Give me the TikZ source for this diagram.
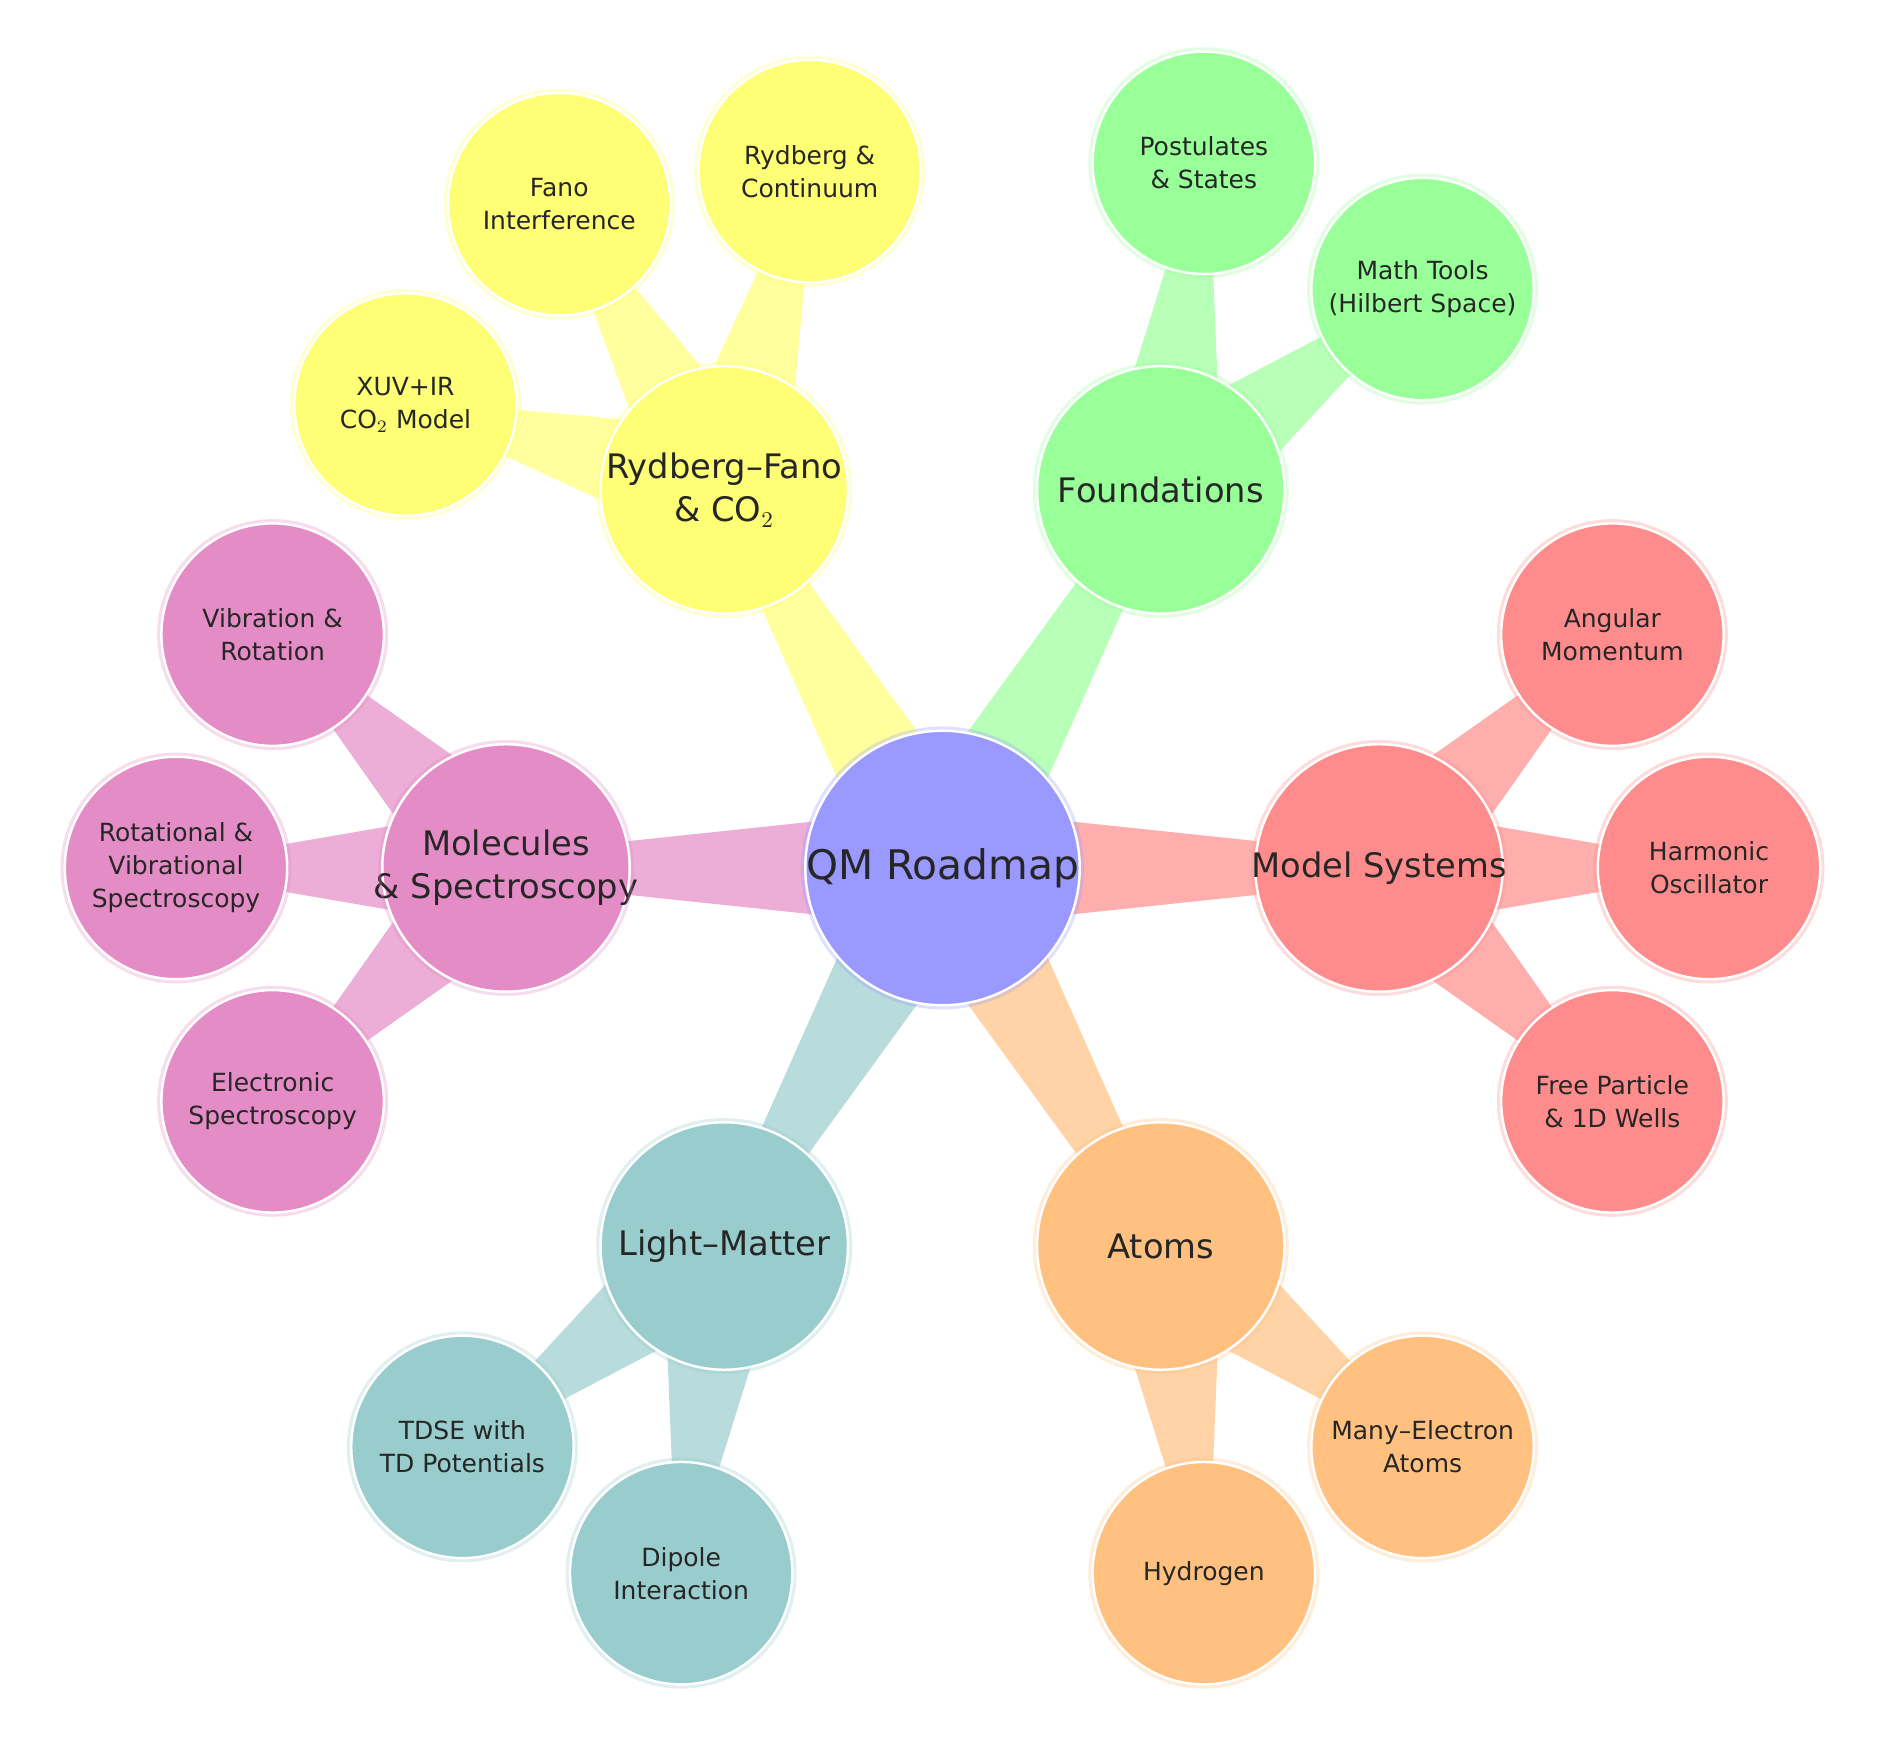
\documentclass[tikz,border=0pt]{standalone}
\usepackage[no-math]{fontspec}
\setmainfont{DejaVu Sans}
\usetikzlibrary{calc}
\pgfdeclarelayer{background}
\pgfsetlayers{background,main}
\definecolor{txt}{HTML}{262626}
\definecolor{cRoot}{HTML}{9999FF}
\definecolor{cFound}{HTML}{99FF99}
\definecolor{cRyd}{HTML}{FFFF75}
\definecolor{cMol}{HTML}{E48CC6}
\definecolor{cModel}{HTML}{FF8C8C}
\definecolor{cLight}{HTML}{99CCCC}
\definecolor{cAtoms}{HTML}{FFC080}
\newcommand\mmconn[5]{%
  \fill[#5!70] ($(#1.center)!#3!90:(#2.center)$) -- ($(#2.center)!#4!-90:(#1.center)$)
    -- ($(#2.center)!#4!90:(#1.center)$) -- ($(#1.center)!#3!-90:(#2.center)$) -- cycle;}
\tikzset{
  concept/.style={circle, inner sep=-25pt, align=center, text=txt, draw=white, line width=1pt},
  rootc/.style={concept, fill=#1, minimum size=109.8pt, font=\fontsize{16.3}{20}\selectfont},
  lvl/.style={concept, fill=#1, minimum size=99pt, font=\fontsize{13.5}{17.3}\selectfont},
  leaf/.style={concept, fill=#1, minimum size=89pt, font=\fontsize{10}{13.2}\selectfont},
  halo/.style={draw=#1, draw opacity=0.3, line width=1.2pt}
}
\begin{document}
\begin{tikzpicture}[x=0.4pt,y=0.4pt]
\useasboundingbox (0,0) rectangle (1885,1737);
% root
\node[rootc=cRoot] (root) at (942.5,869) {QM Roadmap};
% level 1
\node[lvl=cFound] (found) at ($(root)+(60:174.6pt)$) {Foundations};
\node[lvl=cRyd]   (ryd)   at ($(root)+(120:174.6pt)$) {Rydberg–Fano\\\& CO$_2$};
\node[lvl=cMol]   (mol)   at ($(root)+(180:174.6pt)$) {Molecules\\\& Spectroscopy};
\node[lvl=cLight] (light) at ($(root)+(240:174.6pt)$) {Light–Matter};
\node[lvl=cAtoms] (atoms) at ($(root)+(300:174.6pt)$) {Atoms};
\node[lvl=cModel] (model) at ($(root)+(0:174.6pt)$) {Model Systems};
% leaves
\node[leaf=cFound] (post) at ($(found)+(82.5:132pt)$) {Postulates\\\& States};
\node[leaf=cFound] (math) at ($(found)+(37.5:132pt)$) {Math Tools\\(Hilbert Space)};
\node[leaf=cRyd] (rc)   at ($(ryd)+(75:132pt)$) {Rydberg \&\\Continuum};
\node[leaf=cRyd] (fano) at ($(ryd)+(120:132pt)$) {Fano\\Interference};
\node[leaf=cRyd] (xuv)  at ($(ryd)+(165:132pt)$) {XUV+IR\\CO$_2$ Model};
\node[leaf=cMol] (vr)  at ($(mol)+(135:132pt)$) {Vibration \&\\Rotation};
\node[leaf=cMol] (rvs) at ($(mol)+(180:132pt)$) {Rotational \&\\Vibrational\\Spectroscopy};
\node[leaf=cMol] (es)  at ($(mol)+(225:132pt)$) {Electronic\\Spectroscopy};
\node[leaf=cLight] (tdse) at ($(light)+(217.5:132pt)$) {TDSE with\\TD Potentials};
\node[leaf=cLight] (dip)  at ($(light)+(262.5:132pt)$) {Dipole\\Interaction};
\node[leaf=cAtoms] (hyd) at ($(atoms)+(277.5:132pt)$) {Hydrogen};
\node[leaf=cAtoms] (mea) at ($(atoms)+(322.5:132pt)$) {Many–Electron\\Atoms};
\node[leaf=cModel] (am) at ($(model)+(45:132pt)$) {Angular\\Momentum};
\node[leaf=cModel] (ho) at ($(model)+(0:132pt)$) {Harmonic\\Oscillator};
\node[leaf=cModel] (fp) at ($(model)+(-45:132pt)$) {Free Particle\\\& 1D Wells};
% halos
\draw[halo=cRoot] (root.center) circle[radius=56pt];
\foreach \n/\c in {found/cFound, ryd/cRyd, mol/cMol, light/cLight, atoms/cAtoms, model/cModel}
  \draw[halo=\c] (\n.center) circle[radius=50.6pt];
\foreach \n/\c in {post/cFound, math/cFound, rc/cRyd, fano/cRyd, xuv/cRyd, vr/cMol, rvs/cMol, es/cMol,
  tdse/cLight, dip/cLight, hyd/cAtoms, mea/cAtoms, am/cModel, ho/cModel, fp/cModel}
  \draw[halo=\c] (\n.center) circle[radius=45.6pt];
% connectors
\begin{pgfonlayer}{background}
\foreach \n/\c in {found/cFound, ryd/cRyd, mol/cMol, light/cLight, atoms/cAtoms, model/cModel}
  {\mmconn{root}{\n}{24pt}{5.6pt}{\c}}
\foreach \p/\n/\c in {found/post/cFound, found/math/cFound, ryd/rc/cRyd, ryd/fano/cRyd, ryd/xuv/cRyd,
  mol/vr/cMol, mol/rvs/cMol, mol/es/cMol, light/tdse/cLight, light/dip/cLight,
  atoms/hyd/cAtoms, atoms/mea/cAtoms, model/am/cModel, model/ho/cModel, model/fp/cModel}
  {\mmconn{\p}{\n}{24.8pt}{2pt}{\c}}
\end{pgfonlayer}
\end{tikzpicture}
\end{document}
